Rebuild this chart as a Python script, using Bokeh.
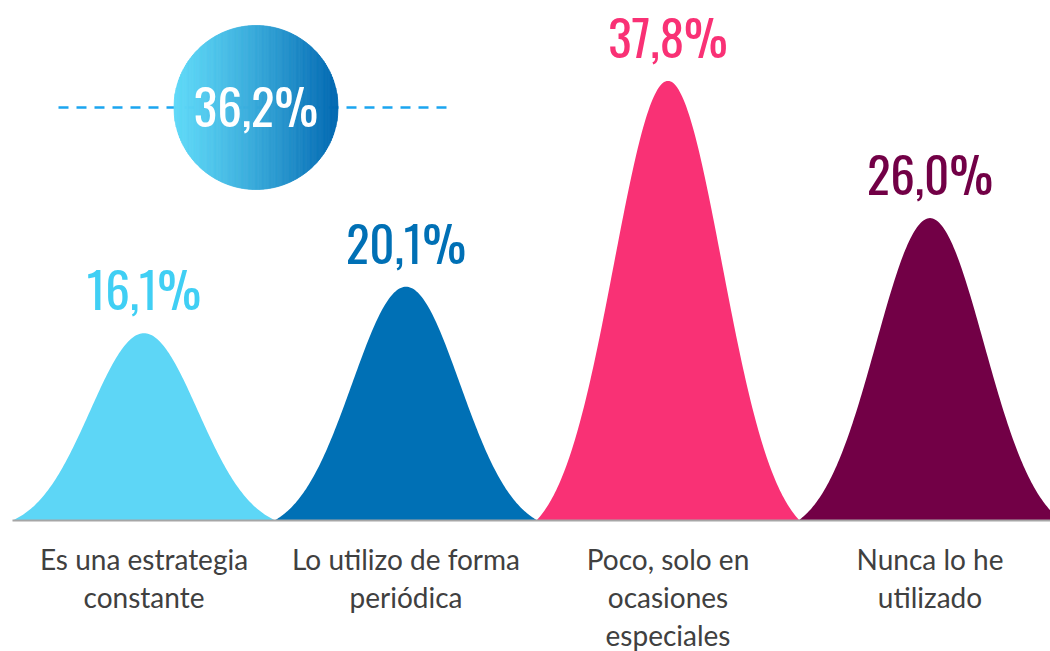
import numpy as np
from bokeh.plotting import figure
from bokeh.models import Range1d, ColumnDataSource
from bokeh.core.properties import value
from bokeh.embed import file_html
from bokeh.resources import INLINE

# ---- data ----
categories = ["Es una estrategia\nconstante", "Lo utilizo de forma\nperiódica",
              "Poco, solo en\nocasiones\nespeciales", "Nunca lo he\nutilizado"]
values = [16.1, 20.1, 37.8, 26.0]
value_labels = ["16,1%", "20,1%", "37,8%", "26,0%"]
peak_colors = ["#5dd6f6", "#0070b5", "#f93175", "#720046"]
label_colors = ["#40cff4", "#0070b5", "#f93175", "#720046"]
highlight_value = 36.2
highlight_label = "36,2%"

# ---- layout helpers (reference pixel geometry) ----
PX = 262.0      # px per category
X0 = 143.5      # px of first category center
YPX = 11.63     # px per percent
BASE = 520.0    # px of baseline

def xd(px):
    return (px - X0) / PX

def yd(py):
    return (BASE - py) / YPX

W, H = 1050, 651
p = figure(width=W, height=H, output_backend="svg", toolbar_location=None,
           x_range=Range1d(xd(0), xd(W)), y_range=Range1d(yd(H), yd(0)),
           x_axis_type=None, y_axis_type=None, min_border=0)
p.grid.visible = False
p.outline_line_color = None
p.background_fill_color = "white"

# peaks (truncated bell shape)
t = np.linspace(-1, 1, 201)
s = 0.41
g = np.exp(-t ** 2 / (2 * s * s))
g1 = np.exp(-1 / (2 * s * s))
shape = (g - g1) / (1 - g1)
xs, ys = [], []
for i, v in enumerate(values):
    xs.append(list(i + 0.502 * t))
    ys.append(list(v * shape))
p.patches(xs=xs, ys=ys, fill_color=peak_colors, line_color=None)

# baseline
p.segment(x0=[xd(12)], y0=[0], x1=[xd(1050)], y1=[0], line_color="#a6a6a6", line_width=2)

VFONT = value("Oswald, 'Roboto Condensed', 'Liberation Sans Narrow', 'DejaVu Sans Condensed', Roboto, sans-serif")

# value labels
idx = list(range(len(values)))
p.text(x=idx, y=values, text=value_labels, text_color=label_colors,
       text_font=VFONT, text_font_size="49px", text_align="center",
       text_baseline="alphabetic", y_offset=-45)

# category labels (one line at a time)
lx, ly, lt, lo = [], [], [], []
for i, c in enumerate(categories):
    for k, line in enumerate(c.split("\n")):
        lx.append(i)
        ly.append(0)
        lt.append(line)
        lo.append(38 + 38 * k)
src = ColumnDataSource(dict(x=lx, y=ly, text=lt, yo=lo))
p.text(x="x", y="y", text="text", y_offset="yo", source=src, text_color="#404040",
       text_font=value("Lato"), text_font_size="28px", text_align="center",
       text_baseline="alphabetic")

# dashed highlight line
cy_px = 107.0
p.line(x=[xd(58), xd(453)], y=[yd(cy_px)] * 2, line_color="#1ba5f0", line_width=2.4,
       line_dash="10 8")

# gradient circle via vertical strips
cx_px, r_px = 255.5, 82.0
N = 140
c0 = np.array([0x5e, 0xd8, 0xf7])
c1 = np.array([0x00, 0x66, 0xb0])
sx, sy, sc = [], [], []
for k in range(N):
    a = -r_px + 2 * r_px * k / N
    b = -r_px + 2 * r_px * (k + 1) / N
    sub = np.linspace(a, b, 4)
    h = np.sqrt(np.maximum(r_px ** 2 - sub ** 2, 0))
    px_ = list(cx_px + sub) + list(cx_px + sub[::-1])
    py_ = list(cy_px - h) + list(cy_px + h[::-1])
    sx.append([xd(q) for q in px_])
    sy.append([yd(q) for q in py_])
    f = (k + 0.5) / N
    f = f ** 1.25
    col = c0 + (c1 - c0) * f
    sc.append("#%02x%02x%02x" % tuple(int(round(q)) for q in col))
p.patches(xs=sx, ys=sy, fill_color=sc, line_color=sc, line_width=0.8)

p.text(x=[xd(cx_px)], y=[yd(cy_px)], text=[highlight_label], text_color="white",
       text_font=VFONT, text_font_size="49px", text_align="center",
       text_baseline="alphabetic", y_offset=-3)

open("out.html", "w").write(file_html(p, INLINE))
